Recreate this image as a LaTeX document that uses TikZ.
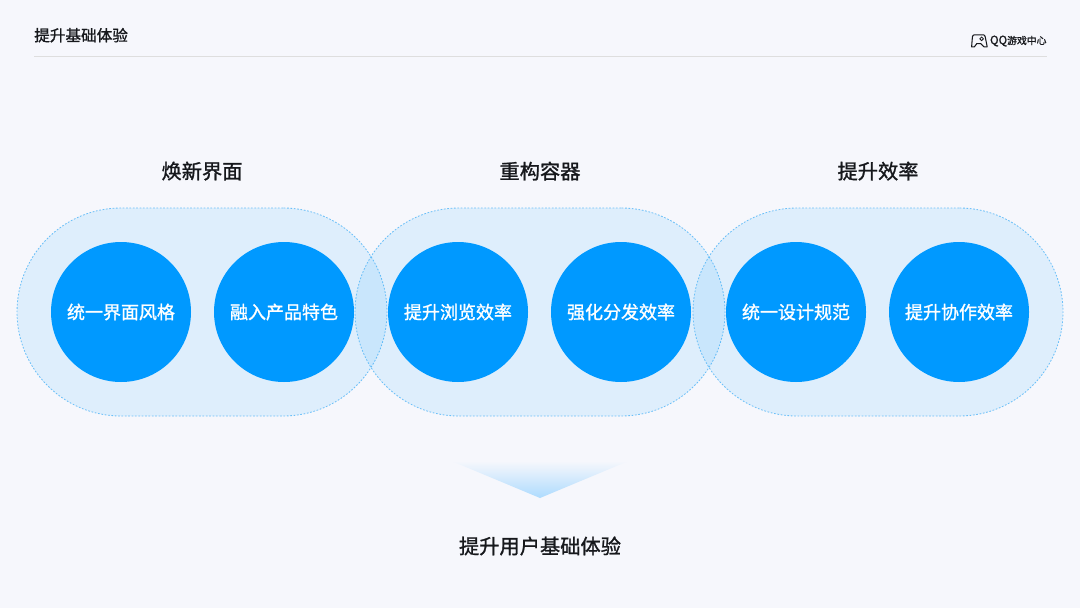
\documentclass[tikz,border=0pt]{standalone}
\usepackage{fontspec}
\setmainfont{Noto Sans CJK SC}
\newfontfamily\midfont[FakeBold=1.2]{Noto Sans CJK SC}
\usetikzlibrary{positioning}

\definecolor{pagebg}{HTML}{F6F7FC}
\definecolor{bubble}{HTML}{0099FF}
\definecolor{capline}{HTML}{6CC0F8}
\definecolor{inktext}{HTML}{16181C}
\definecolor{arrowtip}{HTML}{ADDBFE}

\tikzset{
    capsule/.style={draw=capline, line width=0.6pt, dash pattern=on 1.2pt off 1.2pt, fill=bubble, fill opacity=0.095, rounded corners=2.6cm, minimum width=9.25cm, minimum height=5.2cm, outer sep=0pt},
    bubblenode/.style={circle, fill=bubble, text=white, minimum size=3.5cm, inner sep=0pt, outer sep=0pt, font=\fontsize{12.8}{15}\selectfont\midfont},
    grouptitle/.style={text=inktext, inner sep=0pt, font=\fontsize{14.4}{17}\selectfont\midfont}
}

\begin{document}
\begin{tikzpicture}

        % Page
        \fill[pagebg] (0,0) rectangle (27,15.2);
        \useasboundingbox (0,0) rectangle (27,15.2);

        % Header
        \node[anchor=west, text=inktext, inner sep=0pt, font=\fontsize{11.1}{13}\selectfont\midfont] (head_title) at (0.85,14.32) {提升基础体验};
        \coordinate (rule_l) at (0.85,13.8);
        \coordinate (rule_r) at (26.17,13.8);
        \draw[color=black!13, line width=0.5pt] (rule_l) -- (rule_r);

        % Logo
        \node[anchor=east, text=inktext, inner sep=0pt, font=\fontsize{7}{9}\selectfont\midfont] (logo_text) at (26.17,14.175) {{\fontsize{8.2}{9}\selectfont QQ}游戏中心};
        \draw[inktext, line width=0.75pt, line join=round] (24.36,14.33) -- (24.58,14.33) .. controls (24.61,14.33) and (24.62,14.31) .. (24.63,14.28) -- (24.68,14.03) -- (24.60,14.03) -- (24.52,14.11) -- (24.42,14.11) -- (24.36,14.03) -- (24.29,14.03) -- (24.31,14.28) .. controls (24.32,14.31) and (24.33,14.33) .. (24.36,14.33);
        \draw[inktext, line width=0.6pt] (24.54,14.23) circle (0.045);

        % Capsules
        \node[capsule] (cap_look) at (5.05,7.4) {};
        \node[capsule] (cap_box) at (13.5,7.4) {};
        \node[capsule] (cap_work) at (21.95,7.4) {};

        % Circles
        \node[bubblenode] (ui_style) at (3.025,7.4) {\raisebox{-1pt}{统一界面风格}};
        \node[bubblenode, right=0.575cm of ui_style] (ui_brand) {\raisebox{-1pt}{融入产品特色}};
        \node[bubblenode, right=0.85cm of ui_brand] (box_browse) {\raisebox{-1pt}{提升浏览效率}};
        \node[bubblenode, right=0.575cm of box_browse] (box_share) {\raisebox{-1pt}{强化分发效率}};
        \node[bubblenode, right=0.875cm of box_share] (work_spec) {\raisebox{-1pt}{统一设计规范}};
        \node[bubblenode, right=0.575cm of work_spec] (work_team) {\raisebox{-1pt}{提升协作效率}};

        % Titles
        \node[grouptitle, above=0.68cm of cap_look] (title_look) {焕新界面};
        \node[grouptitle, above=0.68cm of cap_box] (title_box) {重构容器};
        \node[grouptitle, above=0.68cm of cap_work] (title_work) {提升效率};

        % Result
        \shade[top color=pagebg, bottom color=arrowtip] (11.3,3.67) -- (15.7,3.67) -- (13.5,2.75) -- cycle;
        \node[grouptitle] (result) at (13.5,1.55) {提升用户基础体验};

\end{tikzpicture}
\end{document}
